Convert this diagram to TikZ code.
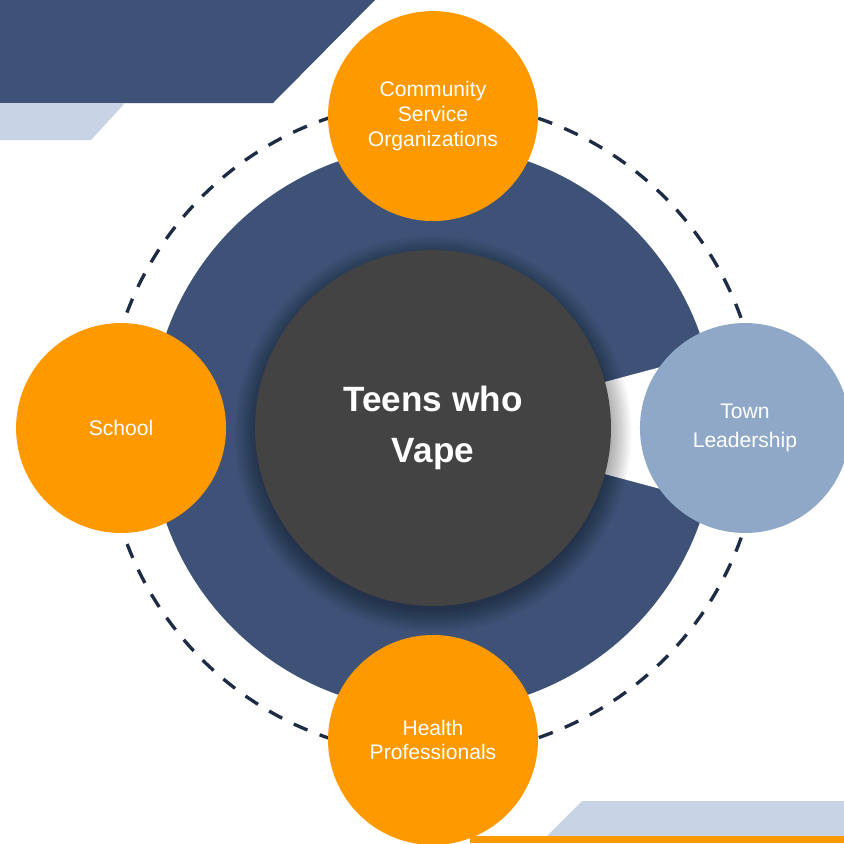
\documentclass[tikz,border=0pt]{standalone}
\usepackage{fontspec}
\setmainfont{Liberation Sans}

\definecolor{navy}{RGB}{62,82,119}
\definecolor{mist}{RGB}{200,212,230}
\definecolor{amber}{RGB}{255,153,0}
\definecolor{steel}{RGB}{143,168,200}
\definecolor{slate}{RGB}{67,67,67}
\definecolor{ink}{RGB}{30,43,69}

\begin{document}
\begin{tikzpicture}[x = 0.02cm, y = -0.02cm, grow = up, level distance = 6.24cm, sibling distance = 0cm,
    every node/.style = {shape = circle, inner sep = 0pt, text = white, align = center},
    edge from parent/.style = {draw = none},
    hubdisk/.style = {fill = slate, minimum size = 7.12cm, font = \bfseries\fontsize{20}{29}\selectfont},
    group/.style = {fill = amber, minimum size = 4.2cm, font = \fontsize{12}{14.2}\selectfont},
    ringline/.style = {draw = ink, line width = 1.9pt, dash pattern = on 8.5pt off 7.4pt}]
        \useasboundingbox (0,0) rectangle (844,843);
        \fill[navy] (0,0) -- (375,0) -- (273,103) -- (0,103) -- cycle;
        \fill[mist] (0,103) -- (125,103) -- (91,140) -- (0,140) -- cycle;
        \fill[mist] (582,801) -- (844,801) -- (844,836) -- (547,836) -- cycle;
        \fill[amber] (470,836) rectangle (844,843);
        \coordinate (hub) at (433,428);
        \fill[navy] (hub) circle (283);
        \fill[white] (hub) -- ++(15:300) arc[start angle = 15, end angle = -15, radius = 300] -- cycle;
        \draw[ringline] (hub) circle (327);
        \foreach \r in {0,...,15}
            \fill[black, opacity = 0.022] (hub) ++(0,6) circle [radius = 176 + 1.5*\r];
        \node[hubdisk] (teens) at (hub) {Teens who\\Vape}
            child[grow = up]{ node[group] (community) {Community\\Service\\Organizations} }
            child[grow = left]{ node[group] (school) {School} }
            child[grow = right]{ node[group, fill = steel, font = \fontsize{12}{16.4}\selectfont] (town) {Town\\Leadership} }
            child[grow = down]{ node[group] (health) {Health\\Professionals} };
\end{tikzpicture}
\end{document}
